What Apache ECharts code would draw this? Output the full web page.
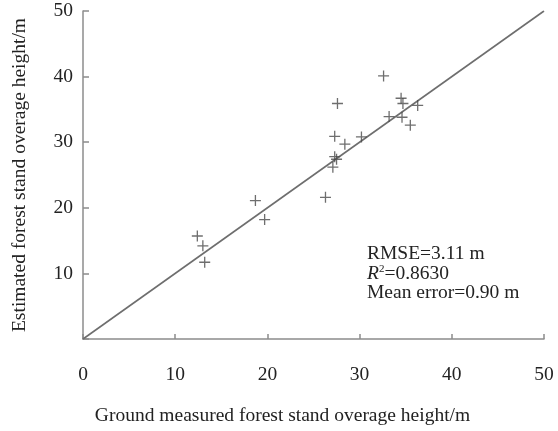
<!DOCTYPE html>
<html>
<head>
<meta charset="utf-8">
<script src="https://cdn.jsdelivr.net/npm/echarts@6/dist/echarts.min.js"></script>
<style>
  html, body { margin: 0; padding: 0; background: #fff; }
  #chart { width: 558px; height: 431px; }
</style>
</head>
<body>
<div id="chart"></div>
<script>
// Ground-measured vs. estimated forest stand average height (m)
const measured = [12.4, 13.0, 13.2, 18.7, 19.7, 26.3, 27.1, 27.3, 27.5, 27.3, 28.4, 30.2, 27.6, 32.6, 34.5, 34.7, 36.3, 33.2, 34.6, 35.5];
const estimated = [15.7, 14.2, 11.7, 21.1, 18.2, 21.6, 26.2, 27.8, 27.4, 30.9, 29.7, 30.8, 35.9, 40.1, 36.7, 35.9, 35.6, 33.9, 33.8, 32.6];
// 1:1 reference line
const lineX = [0, 50];
const lineY = [0, 50];
const xTicks = [0, 10, 20, 30, 40, 50];
const yTicks = [0, 10, 20, 30, 40, 50];
const statLines = ['RMSE=3.11 m', 'R2=0.8630', 'Mean error=0.90 m'];

const FONT = '"Liberation Serif", "DejaVu Serif", serif';
const FS = 19.5;
const AXIS_GREY = '#8c8c8c';

const points = measured.map((m, i) => [m, estimated[i]]);
const line = lineX.map((x, i) => [x, lineY[i]]);

const chart = echarts.init(document.getElementById('chart'), null, { renderer: 'canvas' });

chart.setOption({
  animation: false,
  backgroundColor: '#fff',
  grid: { left: 83, right: 14, top: 11, bottom: 90, containLabel: false },
  xAxis: {
    type: 'value',
    min: xTicks[0],
    max: xTicks[xTicks.length - 1],
    interval: xTicks[1] - xTicks[0],
    name: 'Ground measured forest stand overage height/m',
    nameLocation: 'middle',
    nameGap: 67,
    nameTextStyle: { fontFamily: FONT, fontSize: FS, color: '#222', padding: [0, 62, 0, 0] },
    axisLine: { lineStyle: { color: AXIS_GREY, width: 1.5 } },
    axisTick: { inside: true, length: 5, lineStyle: { color: AXIS_GREY, width: 1.5 } },
    axisLabel: { fontFamily: FONT, fontSize: FS, color: '#222', margin: 26 },
    splitLine: { show: false }
  },
  yAxis: {
    type: 'value',
    min: yTicks[0],
    max: yTicks[yTicks.length - 1],
    interval: yTicks[1] - yTicks[0],
    name: 'Estimated forest stand overage height/m',
    nameLocation: 'middle',
    nameGap: 53,
    nameTextStyle: { fontFamily: FONT, fontSize: FS, color: '#222' },
    axisLine: { show: true, lineStyle: { color: AXIS_GREY, width: 1.5 } },
    axisTick: { show: true, inside: true, length: 6, lineStyle: { color: AXIS_GREY, width: 1.5 } },
    axisLabel: {
      fontFamily: FONT, fontSize: FS, color: '#222', margin: 10,
      formatter: v => (v === 0 ? '' : String(v))
    },
    splitLine: { show: false }
  },
  series: [
    {
      type: 'line',
      data: line,
      symbol: 'none',
      lineStyle: { color: '#6e6e6e', width: 1.6 },
      z: 2
    },
    {
      type: 'scatter',
      data: points,
      symbol: 'path://M5,0 L5,10 M0,5 L10,5',
      symbolSize: 11,
      itemStyle: { color: 'rgba(0,0,0,0)', borderColor: '#4a4a4a', borderWidth: 1.3 },
      z: 3
    }
  ],
  graphic: [
    {
      type: 'text',
      left: 367,
      top: 244,
      style: {
        text: [
          statLines[0],
          '{it|R}{sup|2}=0.8630',
          statLines[2]
        ].join('\n'),
        font: FS + 'px ' + FONT,
        fill: '#222',
        lineHeight: 19.5,
        rich: {
          it: { fontStyle: 'italic', fontFamily: FONT, fontSize: FS, fill: '#222', lineHeight: 19.5 },
          sup: { fontFamily: FONT, fontSize: 11, fill: '#222', verticalAlign: 'top', padding: [0, 0, 8, 0], lineHeight: 19.5 }
        }
      }
    }
  ]
});
</script>
</body>
</html>
